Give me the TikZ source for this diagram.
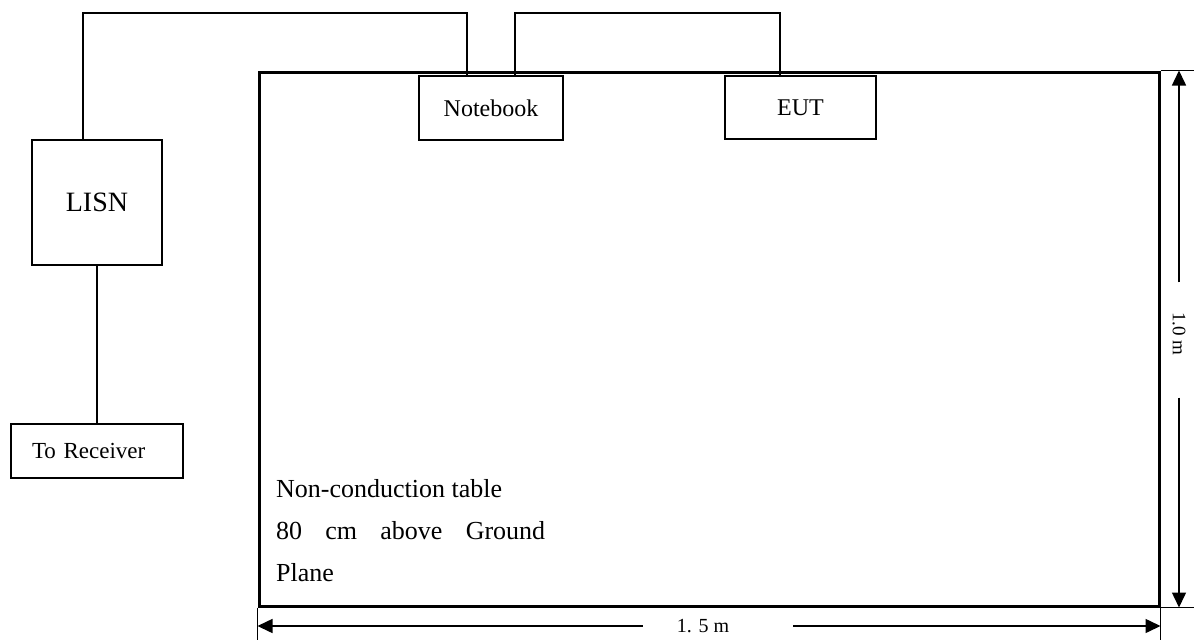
\documentclass[tikz,border=0pt]{standalone}
\usepackage{fontspec}
\setmainfont{Liberation Serif}
\usetikzlibrary{arrows.meta,calc}
\begin{document}
\begin{tikzpicture}[x=1pt,y=-1pt,
  box/.style={draw,line width=1.5pt,inner sep=0pt,font=\fontsize{24}{28}\selectfont},
  wire/.style={line width=1.5pt},
  ext/.style={line width=1.2pt},
  dim/.style={line width=1.5pt,-{Triangle[length=15pt,width=14pt]}},
  dimtext/.style={inner sep=0pt,font=\fontsize{20}{24}\selectfont},
  lbl/.style={inner sep=0pt,font=\fontsize{26}{30}\selectfont,anchor=base west}]
\useasboundingbox (0,0) rectangle (1194,640);
% table
\node[draw,line width=3pt,minimum width=900pt,minimum height=534pt,inner sep=0pt] (table) at (709,339) {};
% boxes
\node[box,minimum width=144pt,minimum height=64pt] (nb) at (491,108) {Notebook};
\node[box,minimum width=151pt,minimum height=63pt] (eut) at (800.5,107.5) {EUT};
\node[box,minimum width=130pt,minimum height=125pt,font=\fontsize{28}{32}\selectfont] (lisn) at (97,202.5) {\raisebox{-5pt}{LISN}};
\node[box,minimum height=54pt,text width=130pt,inner xsep=21pt,align=left,font=\fontsize{23}{28}\selectfont] (rx) at (97,451) {\raisebox{-2pt}{To Receiver}};
% wires
\coordinate (c1) at (83,13);
\coordinate (c2) at (467,13);
\coordinate (c3) at (515,13);
\coordinate (c4) at (780,13);
\draw[wire] (lisn.north -| c1) -- (c1) -- (c2) -- (c2 |- nb.north);
\draw[wire] (c3 |- nb.north) -- (c3) -- (c4) -- (c4 |- eut.north);
\draw[wire] (lisn.south) -- (rx.north);
% table text
\node[lbl] (l1) at (276,497) {Non-conduction table};
\node[lbl] (l2) at (276,539) {\hbox to 269pt{80\hfill cm\hfill above\hfill Ground}};
\node[lbl] (l3) at (276,581) {Plane};
% extension lines
\coordinate (re) at (1194,0);
\coordinate (be) at (0,640);
\draw[ext] (table.north east) -- (table.north east -| re);
\draw[ext] (table.south east) -- (table.south east -| re);
\draw[ext] (table.south west) -- (table.south west |- be);
\draw[ext] (table.south east) -- (table.south east |- be);
% right dimension
\node[dimtext,rotate=-90,minimum width=115pt,font=\fontsize{19}{24}\selectfont] (h) at (1179,340) {1.0 m\hspace*{12pt}};
\draw[dim] (h.west) -- (h.west |- table.north);
\draw[dim] (h.east) -- (h.east |- table.south);
% bottom dimension
\node[dimtext,minimum width=150pt] (w) at (718,626) {1. 5 m\hspace*{30pt}};
\draw[dim] (w.west) -- (w.west -| table.west);
\draw[dim] (w.east) -- (w.east -| table.east);
\end{tikzpicture}
\end{document}
